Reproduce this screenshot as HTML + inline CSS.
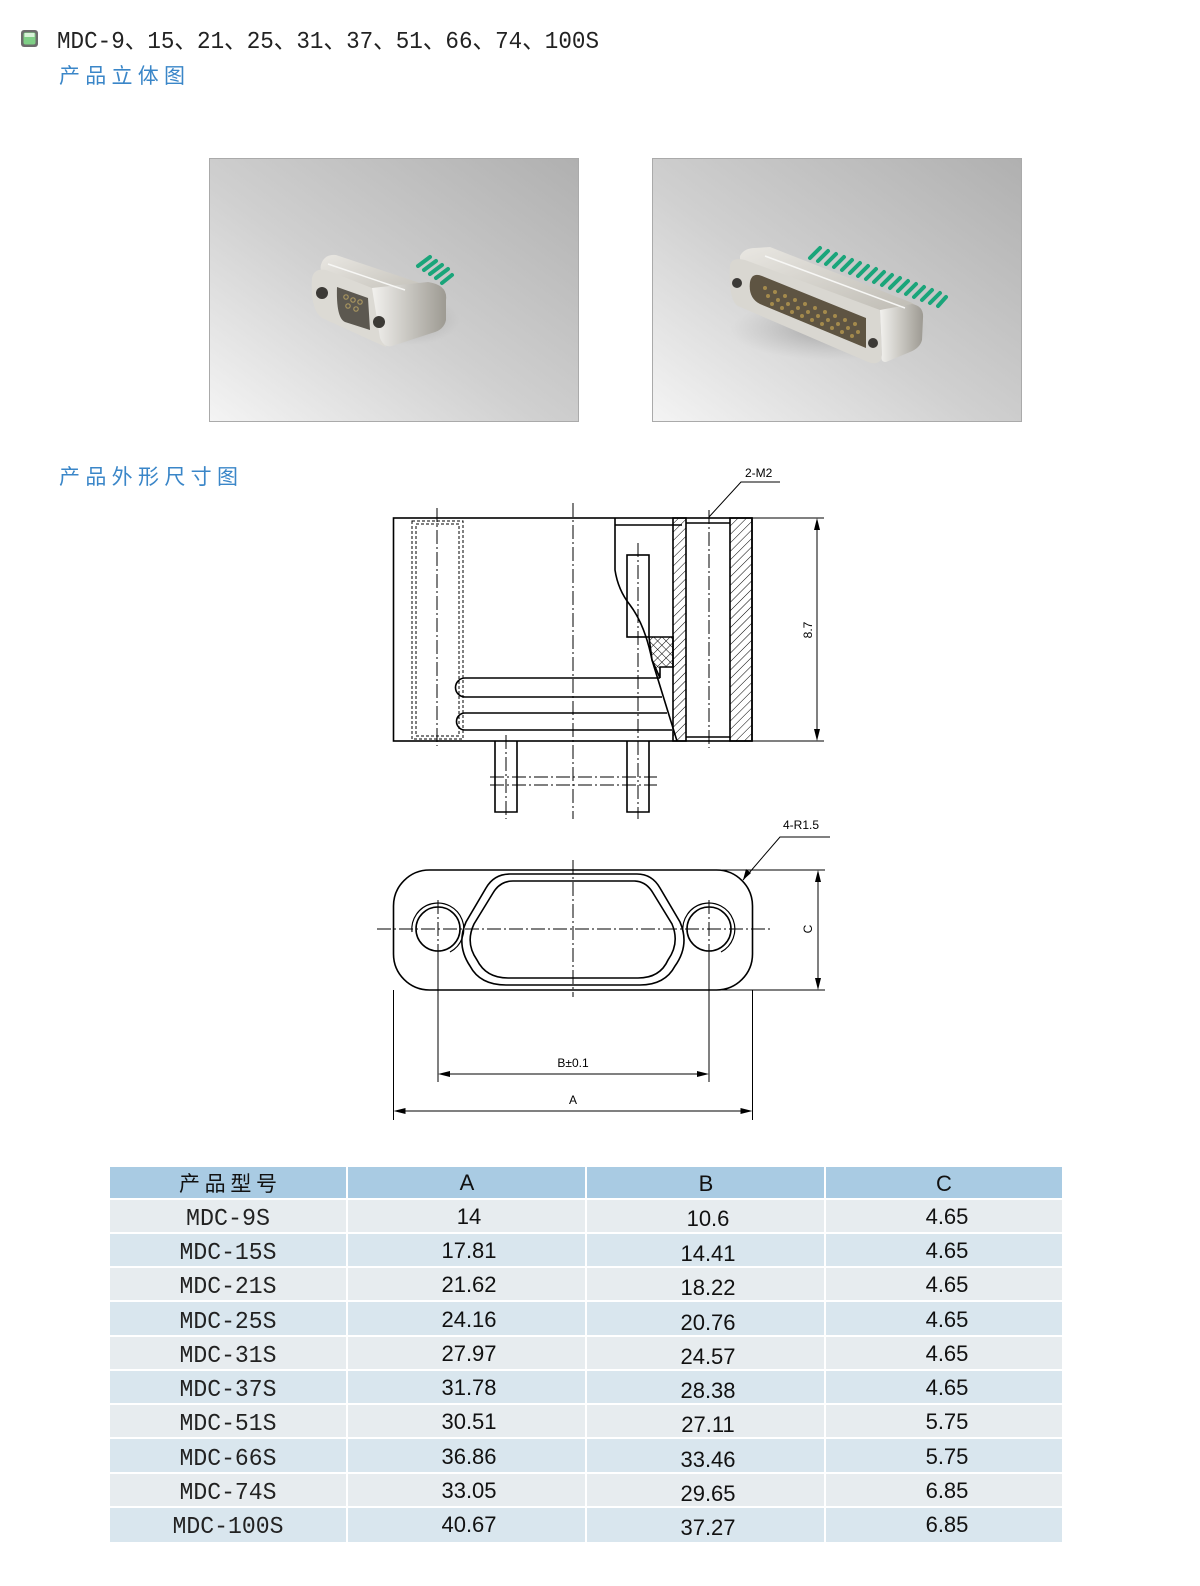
<!DOCTYPE html>
<html><head><meta charset="utf-8"><style>
html,body{margin:0;padding:0;background:#fff;width:1200px;height:1586px;overflow:hidden;}
svg{display:block;}
.s{font-family:"Liberation Sans",sans-serif;}
.m{font-family:"Liberation Mono",monospace;}
.c{font-family:"Noto Sans CJK SC",sans-serif;}
</style></head><body>
<svg width="1200" height="1586" viewBox="0 0 1200 1586" xmlns="http://www.w3.org/2000/svg">
<defs>
<linearGradient id="bg" x1="1" y1="0" x2="0" y2="1"><stop offset="0" stop-color="#b0b0b0"/><stop offset="0.55" stop-color="#d0d0d0"/><stop offset="1" stop-color="#f4f4f4"/></linearGradient>
<linearGradient id="top" x1="0" y1="0" x2="1" y2="1"><stop offset="0" stop-color="#e9e7e2"/><stop offset="1" stop-color="#bdbab2"/></linearGradient>
<linearGradient id="side" x1="0" y1="0" x2="1" y2="0"><stop offset="0" stop-color="#f2f1ee"/><stop offset="1" stop-color="#9d9a92"/></linearGradient>
<pattern id="hatch" width="6" height="6" patternUnits="userSpaceOnUse" patternTransform="rotate(45)"><line x1="0" y1="0" x2="0" y2="6" stroke="#000" stroke-width="1"/></pattern>
<pattern id="cross" width="6" height="6" patternUnits="userSpaceOnUse" patternTransform="rotate(45)"><path d="M0 0V6M0 0H6" stroke="#000" stroke-width="1"/></pattern>
<radialGradient id="sh"><stop offset="0" stop-color="#777" stop-opacity="0.5"/><stop offset="1" stop-color="#999" stop-opacity="0"/></radialGradient>
</defs>

<!-- header -->
<rect x="21" y="30" width="17" height="17" rx="3" fill="#6c6c6c"/>
<rect x="23.5" y="32.5" width="12" height="12" rx="2" fill="#7fcf86"/>
<rect x="24.5" y="33" width="10" height="4" fill="#d8f2d8"/>
<text x="57" y="48" class="m" font-size="24" fill="#222" textLength="542" lengthAdjust="spacingAndGlyphs">MDC-9、15、21、25、31、37、51、66、74、100S</text>
<text x="59" y="83" class="c" font-size="21" fill="#3a86c8" textLength="126" lengthAdjust="spacing">产品立体图</text>
<text x="59" y="484" class="c" font-size="21" fill="#3a86c8" textLength="179" lengthAdjust="spacing">产品外形尺寸图</text>

<!-- photos -->
<rect x="209.5" y="158.5" width="369" height="263" fill="url(#bg)" stroke="#aaa"/>
<rect x="652.5" y="158.5" width="369" height="263" fill="url(#bg)" stroke="#aaa"/>
<!-- small connector -->
<g>
<ellipse cx="410" cy="320" rx="50" ry="25" fill="url(#sh)"/>
<g stroke="#1aa57a" stroke-width="4" stroke-linecap="round">
<line x1="418" y1="266" x2="430" y2="257"/><line x1="424" y1="270" x2="436" y2="261"/><line x1="430" y1="274" x2="442" y2="265"/><line x1="436" y1="278" x2="448" y2="269"/><line x1="442" y1="283" x2="452" y2="275"/>
</g>
<path d="M322 262 Q326 254 336 255 L420 283 Q428 286 430 294 L372 304 Q312 282 322 262Z" fill="url(#top)"/>
<path d="M312 278 Q314 268 326 270 L372 288 L386 347 L322 318 Q310 310 312 278Z" fill="#dcdad4"/>
<path d="M372 288 L428 282 Q448 285 446 300 L446 320 Q444 330 432 333 L392 346 Q384 348 380 338Z" fill="url(#side)"/>
<path d="M337 287 L368 298 L370 330 L345 322 Q336 318 337 287Z" fill="#5c5850"/>
<circle cx="322" cy="293" r="6" fill="#3c3a36"/><circle cx="379" cy="322" r="6" fill="#3c3a36"/>
<g fill="none" stroke="#a89560" stroke-width="1.2"><circle cx="346" cy="297" r="2.2"/><circle cx="353" cy="300" r="2.2"/><circle cx="360" cy="302" r="2.2"/><circle cx="348" cy="306" r="2.2"/><circle cx="356" cy="309" r="2.2"/></g>
<path d="M328 264 L405 290" stroke="#f7f7f5" stroke-width="1.5"/>
</g>
<!-- large connector -->
<g>
<ellipse cx="830" cy="330" rx="100" ry="30" fill="url(#sh)"/>
<g stroke="#1aa57a" stroke-width="4" stroke-linecap="round">
<line x1="810" y1="258" x2="820" y2="248"/><line x1="818" y1="261" x2="828" y2="251"/><line x1="826" y1="264" x2="836" y2="254"/><line x1="834" y1="267" x2="844" y2="257"/><line x1="842" y1="270" x2="852" y2="260"/><line x1="850" y1="273" x2="860" y2="263"/><line x1="858" y1="276" x2="868" y2="266"/><line x1="866" y1="279" x2="876" y2="269"/><line x1="874" y1="282" x2="884" y2="272"/><line x1="882" y1="285" x2="892" y2="275"/><line x1="890" y1="288" x2="900" y2="278"/><line x1="898" y1="291" x2="908" y2="281"/><line x1="906" y1="294" x2="916" y2="284"/><line x1="914" y1="297" x2="924" y2="287"/><line x1="922" y1="300" x2="932" y2="290"/><line x1="930" y1="303" x2="940" y2="293"/><line x1="938" y1="306" x2="946" y2="297"/>
</g>
<path d="M740 256 Q744 248 755 248 L770 247 L910 302 Q920 306 918 316 L880 310 L740 262Z" fill="url(#top)"/>
<path d="M730 265 Q732 257 745 260 L880 310 L882 358 Q878 366 868 362 L738 306 Q728 300 730 265Z" fill="#d9d7d1"/>
<path d="M880 310 L912 304 Q924 306 923 318 L922 340 Q920 348 910 352 L886 362 Q880 362 882 355Z" fill="url(#side)"/>
<path d="M750 282 Q752 272 762 276 L866 318 L866 348 L760 304 Q748 298 750 282Z" fill="#5e5442"/>
<g fill="#a48a4c"><circle cx="765" cy="288" r="2"/><circle cx="775" cy="292" r="2"/><circle cx="785" cy="296" r="2"/><circle cx="795" cy="300" r="2"/><circle cx="805" cy="304" r="2"/><circle cx="815" cy="308" r="2"/><circle cx="825" cy="312" r="2"/><circle cx="835" cy="316" r="2"/><circle cx="845" cy="320" r="2"/><circle cx="855" cy="324" r="2"/><circle cx="768" cy="296" r="2"/><circle cx="778" cy="300" r="2"/><circle cx="788" cy="304" r="2"/><circle cx="798" cy="308" r="2"/><circle cx="808" cy="312" r="2"/><circle cx="818" cy="316" r="2"/><circle cx="828" cy="320" r="2"/><circle cx="838" cy="324" r="2"/><circle cx="848" cy="328" r="2"/><circle cx="858" cy="332" r="2"/><circle cx="772" cy="304" r="2"/><circle cx="782" cy="308" r="2"/><circle cx="792" cy="312" r="2"/><circle cx="802" cy="316" r="2"/><circle cx="812" cy="320" r="2"/><circle cx="822" cy="324" r="2"/><circle cx="832" cy="328" r="2"/><circle cx="842" cy="332" r="2"/><circle cx="852" cy="336" r="2"/></g>
<circle cx="737" cy="283" r="5" fill="#3c3a36"/><circle cx="873" cy="343" r="5" fill="#3c3a36"/>
<path d="M765 256 L905 308" stroke="#f7f7f5" stroke-width="1.5"/>
</g>

<!-- side drawing -->
<g fill="none" stroke="#000" stroke-width="1.6">
<rect x="393.5" y="518" width="358.5" height="223" fill="#fff"/>
<path d="M615 518 V570 Q618 590 630 605 Q645 625 652 660 L677 741"/>
<rect x="673" y="518" width="13" height="223" fill="url(#hatch)"/>
<rect x="730" y="518" width="22" height="223" fill="url(#hatch)"/>
<path d="M686 523 H730 M686 737 H730"/>
<path d="M615 525 H682"/>
<rect x="627" y="555" width="22" height="82"/>
<path d="M649 637 H673 V667 H660 V678 L652 660 Z" fill="url(#cross)"/>
<path d="M465 678 H660 M465 697 H662 M465 713 H667 M465 730 H672"/>
<path d="M465 678 A9.5 9.5 0 0 0 465 697 M465 713 A8.5 8.5 0 0 0 465 730"/>
<path d="M495 741 V812 H517 V741 M627 741 V812 H649 V741"/>
</g>
<g fill="none" stroke="#000" stroke-width="1" stroke-dasharray="3,2">
<rect x="412" y="521" width="51" height="218"/><rect x="416" y="524" width="43" height="212"/>
</g>
<g fill="none" stroke="#000" stroke-width="1" stroke-dasharray="14,3,2,3">
<path d="M573 503 V819 M437 508 V746 M638 543 V819 M506 735 V819 M709 510 V748 M490 777 H657 M490 785 H657"/>
</g>
<g stroke="#000" stroke-width="1" fill="none">
<path d="M752 518 H824 M752 741 H824 M817 521 V738"/>
<path d="M709 517 L741 482 H780"/>
</g>
<path d="M817 518 l-3 12 h6z M817 741 l-3 -12 h6z" fill="#000"/>
<text x="745" y="477" font-size="12" class="s">2-M2</text>
<text x="812" y="630" font-size="12" class="s" transform="rotate(-90 812 630)" text-anchor="middle">8.7</text>

<!-- front drawing -->
<g fill="none" stroke="#000" stroke-width="1.6">
<rect x="393.5" y="870" width="359" height="120" rx="36"/>
<circle cx="438" cy="929" r="22"/><circle cx="709" cy="929" r="22"/>
<path d="M510 874 H637 Q652 874 660 888 L680 922 Q690 945 675 966 Q665 985 640 985 H506 Q480 985 470 966 Q456 945 466 922 L486 888 Q494 874 510 874Z"/>
<path d="M513 881 H634 Q646 881 653 893 L672 924 Q680 943 668 960 Q660 978 638 978 H508 Q486 978 477 960 Q465 943 474 924 L493 893 Q500 881 513 881Z"/>
</g>
<g fill="none" stroke="#000" stroke-width="1.2">
<path d="M412 932 A26 26 0 1 1 450 952"/>
<path d="M683 932 A26 26 0 1 1 721 952"/>
</g>
<g fill="none" stroke="#000" stroke-width="1" stroke-dasharray="14,3,2,3">
<path d="M377 929 H773 M573 860 V997 M438 900 V960 M709 900 V960"/>
</g>
<g stroke="#000" stroke-width="1" fill="none">
<path d="M438 955 V1082 M709 955 V1082 M393.5 990 V1120 M752.5 990 V1120 M441 1074 H706 M396 1111 H750"/>
<path d="M700 870 H825 M700 990 H825 M818 873 V987"/>
<path d="M743 880 L780 837 H830"/>
</g>
<path d="M438 1074 l12 -3 v6z M709 1074 l-12 -3 v6z M393.5 1111 l12 -3 v6z M752.5 1111 l-12 -3 v6z M818 870 l-3 12 h6z M818 990 l-3 -12 h6z M743 880 l3 -11 l5 4z" fill="#000"/>
<text x="783" y="829" font-size="12" class="s">4-R1.5</text>
<text x="573" y="1067" font-size="12" class="s" text-anchor="middle">B±0.1</text>
<text x="573" y="1104" font-size="12" class="s" text-anchor="middle">A</text>
<text x="812" y="929" font-size="12" class="s" transform="rotate(-90 812 929)" text-anchor="middle">C</text>

<!-- table -->
<g>
<rect x="110" y="1167" width="952" height="375" fill="#fff"/>
<g fill="#a9cbe3">
<rect x="110" y="1167" width="236" height="31"/><rect x="348" y="1167" width="237" height="31"/><rect x="587" y="1167" width="237" height="31"/><rect x="826" y="1167" width="236" height="31"/>
</g>
</g>
<g id="rows"></g>
<g font-size="22" fill="#111" text-anchor="middle" class="s">
<text x="228" y="1191" class="c" font-size="21" textLength="98" lengthAdjust="spacing">产品型号</text>
<text x="467" y="1190">A</text><text x="706" y="1191">B</text><text x="944" y="1191">C</text>
</g>
<script>
var vals=[["MDC-9S","14","10.6","4.65"],["MDC-15S","17.81","14.41","4.65"],["MDC-21S","21.62","18.22","4.65"],["MDC-25S","24.16","20.76","4.65"],["MDC-31S","27.97","24.57","4.65"],["MDC-37S","31.78","28.38","4.65"],["MDC-51S","30.51","27.11","5.75"],["MDC-66S","36.86","33.46","5.75"],["MDC-74S","33.05","29.65","6.85"],["MDC-100S","40.67","37.27","6.85"]];
</script>
<g font-size="22" fill="#111" text-anchor="middle">
<rect x="110" y="1200" width="236" height="32" fill="#e7ecef"/><rect x="348" y="1200" width="237" height="32" fill="#e7ecef"/><rect x="587" y="1200" width="237" height="32" fill="#e7ecef"/><rect x="826" y="1200" width="236" height="32" fill="#e7ecef"/>
<rect x="110" y="1234" width="236" height="32" fill="#d9e6ee"/><rect x="348" y="1234" width="237" height="32" fill="#d9e6ee"/><rect x="587" y="1234" width="237" height="32" fill="#d9e6ee"/><rect x="826" y="1234" width="236" height="32" fill="#d9e6ee"/>
<rect x="110" y="1268" width="236" height="32" fill="#e7ecef"/><rect x="348" y="1268" width="237" height="32" fill="#e7ecef"/><rect x="587" y="1268" width="237" height="32" fill="#e7ecef"/><rect x="826" y="1268" width="236" height="32" fill="#e7ecef"/>
<rect x="110" y="1302" width="236" height="33" fill="#d9e6ee"/><rect x="348" y="1302" width="237" height="33" fill="#d9e6ee"/><rect x="587" y="1302" width="237" height="33" fill="#d9e6ee"/><rect x="826" y="1302" width="236" height="33" fill="#d9e6ee"/>
<rect x="110" y="1337" width="236" height="32" fill="#e7ecef"/><rect x="348" y="1337" width="237" height="32" fill="#e7ecef"/><rect x="587" y="1337" width="237" height="32" fill="#e7ecef"/><rect x="826" y="1337" width="236" height="32" fill="#e7ecef"/>
<rect x="110" y="1371" width="236" height="32" fill="#d9e6ee"/><rect x="348" y="1371" width="237" height="32" fill="#d9e6ee"/><rect x="587" y="1371" width="237" height="32" fill="#d9e6ee"/><rect x="826" y="1371" width="236" height="32" fill="#d9e6ee"/>
<rect x="110" y="1405" width="236" height="32" fill="#e7ecef"/><rect x="348" y="1405" width="237" height="32" fill="#e7ecef"/><rect x="587" y="1405" width="237" height="32" fill="#e7ecef"/><rect x="826" y="1405" width="236" height="32" fill="#e7ecef"/>
<rect x="110" y="1439" width="236" height="33" fill="#d9e6ee"/><rect x="348" y="1439" width="237" height="33" fill="#d9e6ee"/><rect x="587" y="1439" width="237" height="33" fill="#d9e6ee"/><rect x="826" y="1439" width="236" height="33" fill="#d9e6ee"/>
<rect x="110" y="1474" width="236" height="32" fill="#e7ecef"/><rect x="348" y="1474" width="237" height="32" fill="#e7ecef"/><rect x="587" y="1474" width="237" height="32" fill="#e7ecef"/><rect x="826" y="1474" width="236" height="32" fill="#e7ecef"/>
<rect x="110" y="1508" width="236" height="34" fill="#d9e6ee"/><rect x="348" y="1508" width="237" height="34" fill="#d9e6ee"/><rect x="587" y="1508" width="237" height="34" fill="#d9e6ee"/><rect x="826" y="1508" width="236" height="34" fill="#d9e6ee"/>
</g>
<g font-size="24" fill="#222" text-anchor="middle" class="m">
<text x="228" y="1225" textLength="84" lengthAdjust="spacingAndGlyphs">MDC-9S</text>
<text x="228" y="1259" textLength="97" lengthAdjust="spacingAndGlyphs">MDC-15S</text>
<text x="228" y="1293" textLength="97" lengthAdjust="spacingAndGlyphs">MDC-21S</text>
<text x="228" y="1328" textLength="97" lengthAdjust="spacingAndGlyphs">MDC-25S</text>
<text x="228" y="1362" textLength="97" lengthAdjust="spacingAndGlyphs">MDC-31S</text>
<text x="228" y="1396" textLength="97" lengthAdjust="spacingAndGlyphs">MDC-37S</text>
<text x="228" y="1430" textLength="97" lengthAdjust="spacingAndGlyphs">MDC-51S</text>
<text x="228" y="1465" textLength="97" lengthAdjust="spacingAndGlyphs">MDC-66S</text>
<text x="228" y="1499" textLength="97" lengthAdjust="spacingAndGlyphs">MDC-74S</text>
<text x="228" y="1533" textLength="111" lengthAdjust="spacingAndGlyphs">MDC-100S</text>
</g>
<g font-size="22" fill="#111" text-anchor="middle" class="s">
<text x="469" y="1224">14</text><text x="708" y="1226">10.6</text><text x="947" y="1224">4.65</text>
<text x="469" y="1258">17.81</text><text x="708" y="1261">14.41</text><text x="947" y="1258">4.65</text>
<text x="469" y="1292">21.62</text><text x="708" y="1295">18.22</text><text x="947" y="1292">4.65</text>
<text x="469" y="1327">24.16</text><text x="708" y="1330">20.76</text><text x="947" y="1327">4.65</text>
<text x="469" y="1361">27.97</text><text x="708" y="1364">24.57</text><text x="947" y="1361">4.65</text>
<text x="469" y="1395">31.78</text><text x="708" y="1398">28.38</text><text x="947" y="1395">4.65</text>
<text x="469" y="1429">30.51</text><text x="708" y="1432">27.11</text><text x="947" y="1429">5.75</text>
<text x="469" y="1464">36.86</text><text x="708" y="1467">33.46</text><text x="947" y="1464">5.75</text>
<text x="469" y="1498">33.05</text><text x="708" y="1501">29.65</text><text x="947" y="1498">6.85</text>
<text x="469" y="1532">40.67</text><text x="708" y="1535">37.27</text><text x="947" y="1532">6.85</text>
</g>
</svg>
</body></html>
